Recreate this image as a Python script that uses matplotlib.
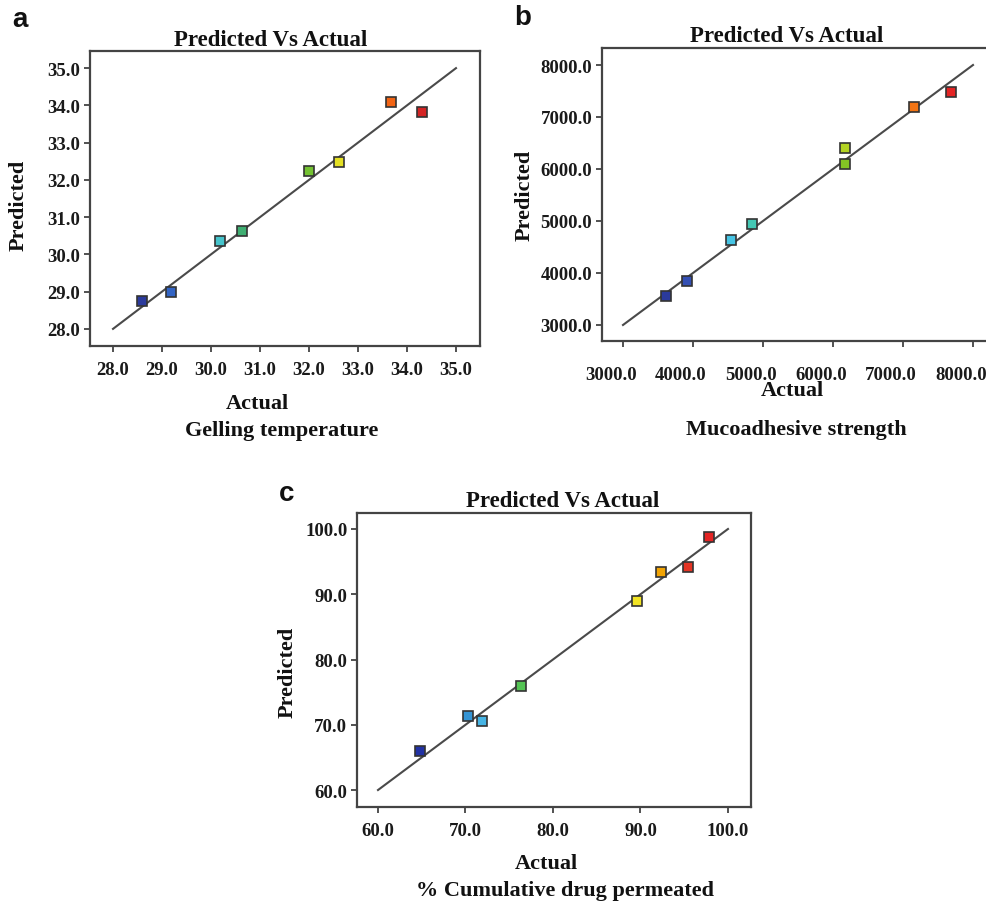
import matplotlib
matplotlib.use("Agg")
import matplotlib.pyplot as plt
import matplotlib.transforms as mtransforms

plt.rcParams['font.family'] = ['Liberation Serif', 'DejaVu Serif']
plt.rcParams['font.weight'] = 'bold'

# panel a - gelling temperature
a_actual = [28.6, 29.18, 30.18, 30.64, 31.99, 32.61, 33.67, 34.31]
a_pred = [28.75, 29.0, 30.36, 30.62, 32.23, 32.48, 34.09, 33.82]
a_colors = ['#2b3a9c', '#3264c4', '#46c4cc', '#3fae72', '#74c232', '#e4e024', '#f26414', '#d42424']
a_ticks = [28.0, 29.0, 30.0, 31.0, 32.0, 33.0, 34.0, 35.0]

# panel b - mucoadhesive strength
b_actual = [3620, 3916, 4536, 4846, 6173, 6173, 7151, 7681]
b_pred = [3563, 3845, 4639, 4940, 6400, 6105, 7193, 7488]
b_colors = ['#2b3a9c', '#3450b4', '#46c4e4', '#44c8b4', '#b4d424', '#84c424', '#f27414', '#e42424']
b_ticks = [3000.0, 4000.0, 5000.0, 6000.0, 7000.0, 8000.0]

# panel c - % cumulative drug permeated
c_actual = [64.8, 70.29, 71.92, 76.38, 89.64, 92.30, 95.47, 97.79]
c_pred = [66.03, 71.29, 70.52, 75.89, 88.97, 93.36, 94.23, 98.72]
c_colors = ['#2232a4', '#3494d4', '#46b4e4', '#54c454', '#f2e424', '#f2a404', '#e43424', '#e42424']
c_ticks = [60.0, 70.0, 80.0, 90.0, 100.0]

W, H = 987, 904
fig = plt.figure(figsize=(W / 100, H / 100), dpi=100)


def px_axes(l, t, r, b):
    return fig.add_axes([l / W, 1 - b / H, (r - l) / W, (b - t) / H])


def ftext(x, y, s, **kw):
    fig.text(x / W, 1 - y / H, s, ha='center', va='center', **kw)


def panel(ax, xs, ys, cols, ticks, lim, xpad, ypad):
    lo, hi = ticks[0], ticks[-1]
    ax.plot([lo, hi], [lo, hi], color='#4a4a4a', lw=1.5, zorder=1)
    for x, y, c in zip(xs, ys, cols):
        ax.plot(x, y, marker='s', ms=6.5, mfc=c, mec='#333333', mew=1.2, zorder=3)
    ax.set_xlim(lim[0], lim[1])
    ax.set_ylim(lim[2], lim[3])
    ax.set_xticks(ticks)
    ax.set_yticks(ticks)
    ax.set_xticklabels(['%.1f' % t for t in ticks])
    ax.set_yticklabels(['%.1f' % t for t in ticks])
    ax.tick_params(direction='out', length=4, width=1.2, color='#333333',
                   labelsize=13.5, labelcolor='#1a1a1a')
    ax.tick_params(axis='x', pad=xpad)
    ax.tick_params(axis='y', pad=ypad)
    for s in ax.spines.values():
        s.set_color('#444444')
        s.set_linewidth(1.6)
    for lab in ax.get_xticklabels() + ax.get_yticklabels():
        lab.set_fontweight('bold')


ax_a = px_axes(90, 52, 480, 347)
panel(ax_a, a_actual, a_pred, a_colors, a_ticks, (27.53, 35.49, 27.54, 35.46), 7, 3)

ax_b = px_axes(602, 49, 994, 342)
panel(ax_b, b_actual, b_pred, b_colors, b_ticks, (2700, 8300, 2692, 8327), 14, 3)
# labels on panel b sit a little left of their ticks in the original
shift = mtransforms.ScaledTranslation(-12 / 100, 0, fig.dpi_scale_trans)
for lab in ax_b.get_xticklabels():
    lab.set_transform(lab.get_transform() + shift)

ax_c = px_axes(357, 514, 751, 808)
panel(ax_c, c_actual, c_pred, c_colors, c_ticks, (57.6, 102.63, 57.4, 102.45), 7, 3)

title_kw = dict(fontsize=16.5, fontweight='bold', color='#111111')
ftext(271, 40, 'Predicted Vs Actual', **title_kw)
ftext(787, 37, 'Predicted Vs Actual', **title_kw)
ftext(563, 502, 'Predicted Vs Actual', **title_kw)

lab_kw = dict(fontsize=16, fontweight='bold', color='#111111')
ftext(19, 205, 'Predicted', rotation=90, **lab_kw)
ftext(525, 195, 'Predicted', rotation=90, **lab_kw)
ftext(288, 672, 'Predicted', rotation=90, **lab_kw)

ftext(257, 404, 'Actual', **lab_kw)
ftext(282, 431, 'Gelling temperature', **lab_kw)
ftext(792, 391, 'Actual', **lab_kw)
ftext(796, 430, 'Mucoadhesive strength', **lab_kw)
ftext(546, 864, 'Actual', **lab_kw)
ftext(565, 891, '% Cumulative drug permeated', **lab_kw)

let_kw = dict(fontsize=20, fontweight='bold', family='Liberation Sans', color='#111111')
ftext(20, 20, 'a', **let_kw)
ftext(523, 18, 'b', **let_kw)
ftext(287, 494, 'c', **let_kw)

fig.savefig('out.png', dpi=100)
